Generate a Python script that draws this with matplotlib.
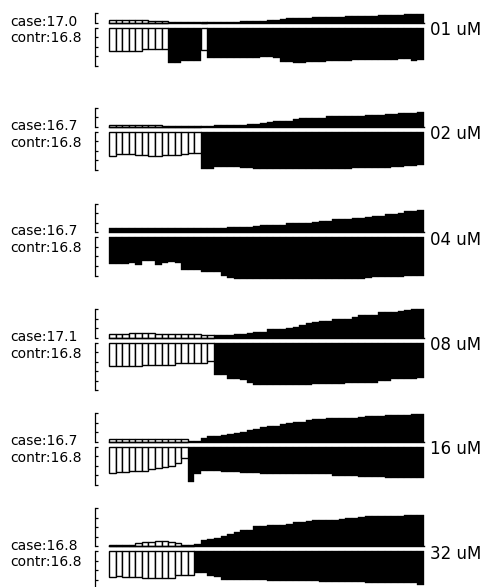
import matplotlib
matplotlib.use("Agg")
import matplotlib.pyplot as plt
import numpy as np

W, H, DPI = 483, 587, 100

concentrations = ["01 uM", "02 uM", "04 uM", "08 uM", "16 uM", "32 uM"]
case_labels = ["case:17.0", "case:16.7", "case:16.7", "case:17.1", "case:16.7", "case:16.8"]
contr_labels = ["contr:16.8", "contr:16.8", "contr:16.8", "contr:16.8", "contr:16.8", "contr:16.8"]

case_01 = [0.31, 0.31, 0.31, 0.31, 0.31, 0.28, 0.18, 0.18, 0.18, 0.05, 0.05, 0.05, 0.05, 0.05, 0.05, 0.05,
           0.08, 0.08, 0.08, 0.08, 0.14, 0.14, 0.14, 0.18, 0.27, 0.27, 0.34, 0.42, 0.42, 0.50, 0.50, 0.54,
           0.54, 0.61, 0.61, 0.61, 0.66, 0.66, 0.73, 0.73, 0.73, 0.79, 0.79, 0.83, 0.83, 0.87, 0.87, 0.87]
contr_01 = [2.46, 2.46, 2.46, 2.46, 2.46, 2.25, 2.25, 2.25, 2.25, 3.72, 3.72, 3.46, 3.46, 3.46, 2.36, 3.19,
            3.19, 3.19, 3.19, 3.19, 3.19, 3.19, 3.19, 3.09, 3.09, 3.22, 3.58, 3.58, 3.75, 3.75, 3.64, 3.64,
            3.64, 3.51, 3.51, 3.51, 3.51, 3.40, 3.40, 3.40, 3.40, 3.40, 3.40, 3.40, 3.30, 3.30, 3.48, 3.40]
open_01 = [0, 1, 2, 3, 4, 5, 6, 7, 8, 14]

case_02 = [0.21, 0.18, 0.14, 0.14, 0.14, 0.14, 0.14, 0.14, 0.10, 0.10, 0.10, 0.10, 0.10, 0.10, 0.10, 0.10,
           0.14, 0.14, 0.14, 0.21, 0.21, 0.28, 0.28, 0.35, 0.45, 0.55, 0.55, 0.63, 0.76, 0.87, 0.87, 0.94,
           0.94, 1.08, 1.08, 1.08, 1.15, 1.15, 1.15, 1.26, 1.26, 1.26, 1.29, 1.29, 1.39, 1.39, 1.39, 1.50]
contr_02 = [2.55, 2.30, 2.38, 2.38, 2.45, 2.45, 2.55, 2.55, 2.41, 2.41, 2.46, 2.30, 2.20, 2.20, 3.87, 3.87,
            3.72, 3.72, 3.66, 3.66, 3.77, 3.77, 3.87, 3.87, 3.87, 3.87, 3.87, 3.87, 3.87, 3.87, 3.87, 3.87,
            3.87, 3.87, 3.87, 3.87, 3.87, 3.82, 3.82, 3.82, 3.82, 3.77, 3.77, 3.72, 3.72, 3.56, 3.56, 3.46]
open_02 = [0, 1, 2, 3, 4, 5, 6, 7, 8, 9, 10, 11, 12, 13]

case_04 = [0.45, 0.45, 0.45, 0.45, 0.42, 0.42, 0.42, 0.42, 0.42, 0.42, 0.42, 0.42, 0.42, 0.45, 0.45, 0.45,
           0.49, 0.49, 0.52, 0.52, 0.60, 0.60, 0.63, 0.73, 0.76, 0.76, 0.76, 0.94, 0.94, 0.97, 0.97, 1.12,
           1.18, 1.18, 1.36, 1.36, 1.36, 1.47, 1.54, 1.60, 1.75, 1.75, 1.88, 1.88, 1.99, 2.20, 2.27, 2.34]
contr_04 = [2.83, 2.75, 2.75, 2.72, 2.93, 2.48, 2.48, 2.93, 2.66, 2.55, 2.66, 3.46, 3.46, 3.46, 3.59, 3.59,
            3.59, 4.02, 4.29, 4.40, 4.40, 4.40, 4.40, 4.40, 4.40, 4.40, 4.40, 4.40, 4.40, 4.40, 4.40, 4.40,
            4.40, 4.40, 4.40, 4.40, 4.40, 4.40, 4.40, 4.29, 4.19, 4.19, 4.19, 4.16, 4.16, 4.02, 4.02, 4.02]
open_04 = []

case_08 = [0.42, 0.42, 0.42, 0.52, 0.49, 0.49, 0.49, 0.42, 0.42, 0.39, 0.39, 0.35, 0.35, 0.35, 0.28, 0.24,
           0.24, 0.28, 0.31, 0.35, 0.39, 0.52, 0.63, 0.63, 0.91, 0.91, 0.91, 1.05, 1.15, 1.33, 1.50, 1.60,
           1.75, 1.75, 1.92, 1.99, 1.99, 2.17, 2.34, 2.34, 2.38, 2.65, 2.72, 2.72, 2.83, 2.90, 2.99, 2.99]
contr_08 = [2.44, 2.44, 2.44, 2.44, 2.44, 2.30, 2.30, 2.30, 2.30, 2.34, 2.17, 2.17, 2.17, 2.17, 2.09, 1.96,
            3.42, 3.42, 3.84, 3.84, 3.95, 4.19, 4.40, 4.40, 4.40, 4.40, 4.40, 4.47, 4.47, 4.47, 4.47, 4.29,
            4.29, 4.29, 4.29, 4.29, 4.19, 4.19, 4.19, 4.19, 4.19, 4.05, 4.05, 3.80, 3.80, 3.80, 3.80, 3.66]
open_08 = [0, 1, 2, 3, 4, 5, 6, 7, 8, 9, 10, 11, 12, 13, 14, 15]

case_16 = [0.31, 0.31, 0.31, 0.31, 0.28, 0.28, 0.28, 0.24, 0.24, 0.24, 0.24, 0.24, 0.10, 0.10, 0.39, 0.55,
           0.55, 0.66, 0.76, 0.91, 1.05, 1.26, 1.36, 1.54, 1.68, 1.68, 1.81, 1.92, 2.02, 2.02, 2.27, 2.38,
           2.38, 2.44, 2.44, 2.44, 2.44, 2.51, 2.62, 2.65, 2.65, 2.72, 2.80, 2.83, 2.83, 2.83, 2.93, 2.93]
contr_16 = [2.72, 2.62, 2.62, 2.54, 2.54, 2.54, 2.34, 2.20, 2.09, 2.02, 1.75, 1.15, 3.66, 2.90, 2.54, 2.54,
            2.54, 2.62, 2.69, 2.69, 2.80, 2.80, 2.80, 2.90, 2.90, 2.90, 2.90, 2.90, 2.90, 2.90, 2.90, 2.90,
            2.90, 2.90, 3.07, 3.07, 3.07, 3.07, 3.17, 3.17, 3.17, 3.17, 3.25, 3.25, 3.25, 3.25, 3.25, 3.25]
open_16 = [0, 1, 2, 3, 4, 5, 6, 7, 8, 9, 10, 11]

case_32 = [0.14, 0.14, 0.14, 0.14, 0.31, 0.42, 0.42, 0.52, 0.52, 0.45, 0.35, 0.18, 0.14, 0.21, 0.63, 0.76,
           0.84, 1.05, 1.26, 1.47, 1.68, 1.75, 2.09, 2.09, 2.27, 2.27, 2.27, 2.38, 2.51, 2.51, 2.65, 2.72,
           2.80, 2.80, 2.80, 2.86, 2.96, 2.96, 3.07, 3.14, 3.14, 3.14, 3.21, 3.21, 3.21, 3.28, 3.28, 3.28]
contr_32 = [2.65, 2.54, 2.65, 2.65, 2.65, 2.75, 2.75, 2.75, 2.75, 2.75, 2.44, 2.44, 2.44, 2.30, 2.30, 2.54,
            2.72, 3.00, 3.00, 3.00, 3.00, 3.00, 3.00, 3.00, 3.07, 3.07, 3.07, 3.07, 3.07, 3.07, 3.07, 3.07,
            3.17, 3.17, 3.17, 3.17, 3.17, 3.17, 3.17, 3.28, 3.28, 3.28, 3.28, 3.28, 3.28, 3.35, 3.35, 3.49]
open_32 = [0, 1, 2, 3, 4, 5, 6, 7, 8, 9, 10, 11, 12]

case_series = [case_01, case_02, case_04, case_08, case_16, case_32]
contr_series = [contr_01, contr_02, contr_04, contr_08, contr_16, contr_32]
open_series = [open_01, open_02, open_04, open_08, open_16, open_32]
case_ticks = [1, 2, 3, 3, 3, 4]
contr_ticks = [4, 4, 4, 5, 4, 4]

# layout (pixels from the top of the figure)
baselines_px = [22.5, 126.7, 232.3, 337.7, 441.7, 546.3]
GAP = 5.0
PPU = 9.55
X0, X1 = 109.0, 424.0
SPINE_OFFSET_PT = 14.5 * 72 / DPI

fig = plt.figure(figsize=(W / DPI, H / DPI), dpi=DPI)
fig.patch.set_facecolor("white")


def style_axis(ax, nticks):
    for s in ("top", "right", "bottom"):
        ax.spines[s].set_visible(False)
    ax.spines["left"].set_position(("outward", SPINE_OFFSET_PT))
    ax.spines["left"].set_bounds(0, nticks)
    ax.spines["left"].set_linewidth(0.9)
    ax.set_yticks(range(nticks + 1))
    ax.set_yticklabels([])
    ax.set_xticks([])
    ax.tick_params(axis="y", direction="in", length=2.4, width=0.9)
    ax.patch.set_alpha(0)


def draw_bars(ax, idx, vals, opens):
    black_idx = [i for i in idx if i not in opens]
    white_idx = [i for i in idx if i in opens]
    # filled bars: thin edge so antialiasing leaves faint seams between neighbours
    ax.bar(black_idx, [vals[i] for i in black_idx], width=1.0, color="black",
           edgecolor="black", linewidth=0.25, clip_on=False, zorder=2)
    # open bars: white with a black outline
    ax.bar(white_idx, [vals[i] for i in white_idx], width=1.0, color="white",
           edgecolor="black", linewidth=1.0, clip_on=False, zorder=3)


for k in range(6):
    base = baselines_px[k]
    case = case_series[k]
    contr = contr_series[k]
    opens = set(open_series[k])
    idx = list(range(len(case)))

    up_top = max(case_ticks[k], max(case))
    h_up = up_top * PPU
    ax_u = fig.add_axes([X0 / W, (H - base) / H, (X1 - X0) / W, h_up / H])
    draw_bars(ax_u, idx, case, opens)
    ax_u.axhline(0, color="black", linewidth=1.0, zorder=4, clip_on=False)
    ax_u.set_xlim(-0.5, len(case) - 0.5)
    ax_u.set_ylim(0, up_top)
    style_axis(ax_u, case_ticks[k])

    lo_bot = max(contr_ticks[k], max(contr))
    h_lo = lo_bot * PPU
    top_lo = base + GAP
    ax_l = fig.add_axes([X0 / W, (H - top_lo - h_lo) / H, (X1 - X0) / W, h_lo / H])
    draw_bars(ax_l, idx, contr, opens)
    ax_l.set_xlim(-0.5, len(contr) - 0.5)
    ax_l.set_ylim(lo_bot, 0)
    style_axis(ax_l, contr_ticks[k])

    fig.text(10.7 / W, 1 - (base + 3.2) / H, case_labels[k], fontsize=10,
             ha="left", va="baseline", family="DejaVu Sans")
    fig.text(10.7 / W, 1 - (base + 19.9) / H, contr_labels[k], fontsize=10,
             ha="left", va="baseline", family="DejaVu Sans")
    fig.text(430.0 / W, 1 - (base + 12.4) / H, concentrations[k], fontsize=12,
             ha="left", va="baseline", family="DejaVu Sans")

fig.savefig("out.png", dpi=DPI)
